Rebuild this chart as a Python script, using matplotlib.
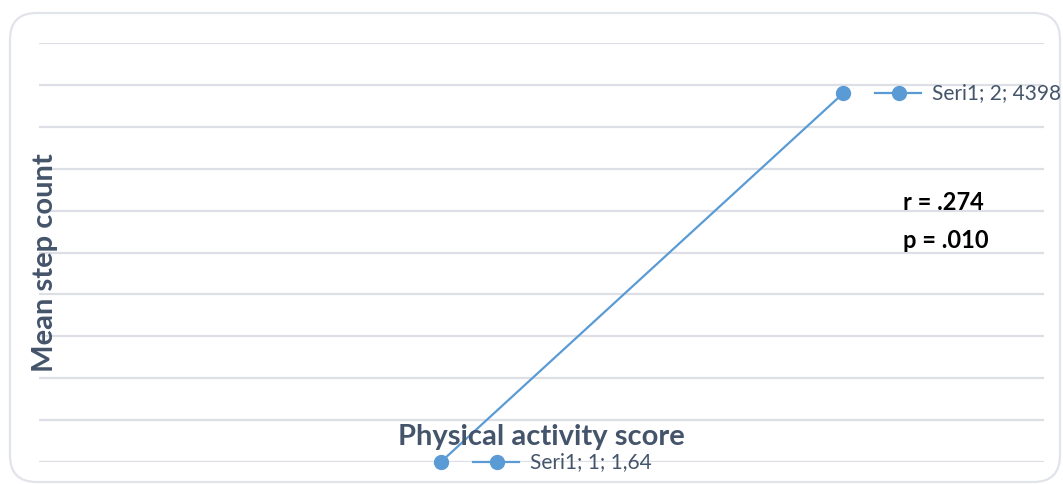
import matplotlib
matplotlib.use("Agg")
import matplotlib.pyplot as plt
from matplotlib.patches import FancyBboxPatch
from matplotlib.lines import Line2D
import matplotlib.transforms as mtransforms

# Data
series_name = "Seri1"
x_vals = [1, 2]
y_vals = [1.64, 4398]
labels = ["Seri1; 1; 1,64", "Seri1; 2; 4398"]
x_title = "Physical activity score"
y_title = "Mean step count"
stats_text = ["r = .274", "p = .010"]

BLUE = "#5B9BD5"
TXT = "#44546A"
GRID = "#DCE0E6"

plt.rcParams['font.family'] = ['Lato', 'DejaVu Sans']

W, H = 1063, 484
fig = plt.figure(figsize=(W / 100, H / 100), dpi=100)

# rounded frame
frame = FancyBboxPatch((10 / W, 2 / H), (1050 / W), (469 / H),
                       boxstyle="round,pad=0,rounding_size=0.025",
                       transform=fig.transFigure, facecolor="white",
                       edgecolor="#E1E4E9", linewidth=1.6, mutation_aspect=W / H,
                       zorder=-5)
fig.patches.append(frame)

ax = fig.add_axes([39 / W, (H - 462) / H, (1044 - 39) / W, (462 - 43) / H])
ax.set_zorder(2)
ax.set_facecolor("none")
ax.set_xlim(0, 2.5)
ax.set_ylim(0, 5000)
ax.set_yticks(range(0, 5001, 500))
ax.yaxis.grid(True, color=GRID, linewidth=1.6)
ax.set_axisbelow(True)
ax.tick_params(left=False, bottom=False, labelleft=False, labelbottom=False)
for s in ax.spines.values():
    s.set_visible(False)

ax.plot(x_vals, y_vals, color=BLUE, linewidth=1.6, marker="o",
        markersize=10, markerfacecolor=BLUE, markeredgecolor=BLUE, clip_on=False, zorder=3)

# data labels with legend keys
for xv, yv, lab in zip(x_vals, y_vals, labels):
    seg_tr = mtransforms.offset_copy(ax.transData, fig=fig, x=0, y=0, units="dots")
    px, py = ax.transData.transform((xv, yv))
    # key line
    ax.add_line(Line2D([px + 32, px + 78], [py, py], color=BLUE, linewidth=1.6,
                       clip_on=False, transform=mtransforms.IdentityTransform(), zorder=3))
    # key marker
    ax.add_line(Line2D([px + 56], [py], marker="o", markersize=10, color=BLUE,
                       clip_on=False, transform=mtransforms.IdentityTransform(), zorder=3))
    ax.annotate(lab, xy=(xv, yv), xycoords="data", xytext=(89, 0), textcoords="offset pixels",
                ha="left", va="center", fontsize=15, color=TXT, annotation_clip=False)

# axis titles
fig.text(541 / W, (H - 437) / H, x_title, ha="center", va="center",
         fontsize=21, fontweight="bold", color=TXT)
fig.text(45 / W, (H - 263) / H, y_title, ha="center", va="center", rotation=90,
         fontsize=21, fontweight="bold", color=TXT)

# stats
fig.text(903 / W, (H - 203) / H, stats_text[0], ha="left", va="center",
         fontsize=17, fontweight="bold", color="black")
fig.text(903 / W, (H - 240) / H, stats_text[1], ha="left", va="center",
         fontsize=17, fontweight="bold", color="black")

fig.savefig("out.png", dpi=100)
